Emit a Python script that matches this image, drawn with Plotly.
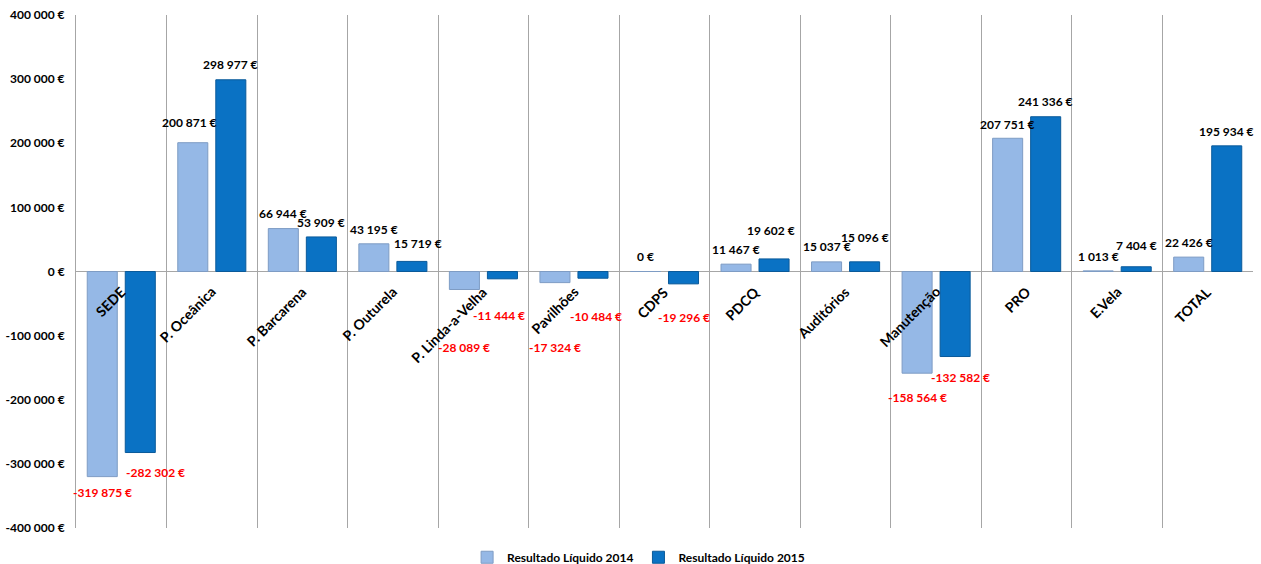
import plotly.graph_objects as go

categories = ["SEDE", "P. Oceânica", "P. Barcarena", "P. Outurela", "P. Linda-a-Velha",
              "Pavilhões", "CDPS", "PDCQ", "Auditórios", "Manutenção", "PRO", "E.Vela", "TOTAL"]
values_2014 = [-319875, 200871, 66944, 43195, -28089, -17324, 0, 11467, 15037, -158564, 207751, 1013, 22426]
values_2015 = [-282302, 298977, 53909, 15719, -11444, -10484, -19296, 19602, 15096, -132582, 241336, 7404, 195934]
series_names = ["Resultado Líquido 2014", "Resultado Líquido 2015"]
y_ticks = [400000, 300000, 200000, 100000, 0, -100000, -200000, -300000, -400000]

# label offsets (pixels from bar end, toward outside) for the data labels
label_gap_2014 = [16, 20, 15, 14, 58, 65, 15, 15, 15, 24, 14, 14, 15]
label_gap_2015 = [20, 15, 14, 18, 37, 38, 34, 28, 24, 21, 15, 21, 14]
label_dx_2014 = [0, -3, 0, 0, 0, 0, 0, 0, 0, 0, 0, 0, 0]
label_dx_2015 = [15, 0, 0, 6, -3, 3, 0, -3, 0, 5, 0, 0, 0]

FONT = "Lato"
LIGHT = "#95B8E6"
LIGHT_EDGE = "#7E9CC4"
DARK = "#0A72C4"
DARK_EDGE = "#0A5A9A"

def fmt(v):
    return f"{v:,}".replace(",", " ") + " €"

n = len(categories)
xs = list(range(n))
bargap = 0.16
bargroupgap = 0.21
slot = (1 - bargap) / 2

fig = go.Figure()
fig.add_trace(go.Bar(x=xs, y=values_2014, name=series_names[0],
                     marker=dict(color=LIGHT, line=dict(color=LIGHT_EDGE, width=1))))
fig.add_trace(go.Bar(x=xs, y=values_2015, name=series_names[1],
                     marker=dict(color=DARK, line=dict(color=DARK_EDGE, width=1))))

annotations = []
for vals, gaps, dxs, off in ((values_2014, label_gap_2014, label_dx_2014, -slot / 2),
                             (values_2015, label_gap_2015, label_dx_2015, slot / 2)):
    for i, v in enumerate(vals):
        neg = v < 0
        annotations.append(dict(
            x=i + off, y=v, xref="x", yref="y", text=fmt(v), showarrow=False,
            xanchor="center", yanchor="middle",
            xshift=dxs[i], yshift=(-gaps[i] if neg else gaps[i]),
            font=dict(family=FONT, size=12, weight="bold", color="#FF0000" if neg else "#000000")))

for i, c in enumerate(categories):
    annotations.append(dict(
        x=i, y=0, xref="x", yref="y", text=c, showarrow=False, textangle=-45,
        xanchor="right", yanchor="top", xshift=10, yshift=-9,
        font=dict(family=FONT, size=14, weight="bold", color="#000000")))

fig.update_layout(
    width=1261, height=564,
    margin=dict(l=76, r=8, t=15, b=36, autoexpand=False),
    paper_bgcolor="white", plot_bgcolor="white",
    barmode="group", bargap=bargap, bargroupgap=bargroupgap,
    font=dict(family=FONT, size=12, color="#000000"),
    showlegend=True,
    legend=dict(orientation="h", x=0.478, xanchor="center", y=-0.057, yanchor="middle",
                font=dict(family=FONT, size=12, weight="bold"), itemwidth=30,
                traceorder="normal"),
    annotations=annotations,
)
fig.update_xaxes(range=[-0.5, n - 0.5], tickmode="array",
                 tickvals=[i - 0.5 for i in range(n + 1)], showticklabels=False,
                 showgrid=True, gridcolor="#A6A6A6", gridwidth=1, zeroline=False,
                 showline=False, ticks="")
fig.update_yaxes(range=[-400000, 400000], tickmode="array", tickvals=y_ticks,
                 ticktext=[fmt(t) for t in y_ticks], showgrid=False,
                 zeroline=True, zerolinecolor="#A6A6A6", zerolinewidth=1,
                 showline=True, linecolor="#A6A6A6", ticks="", ticklabelstandoff=8,
                 tickfont=dict(family=FONT, size=12, weight="bold"))

fig.write_html("out.html")
